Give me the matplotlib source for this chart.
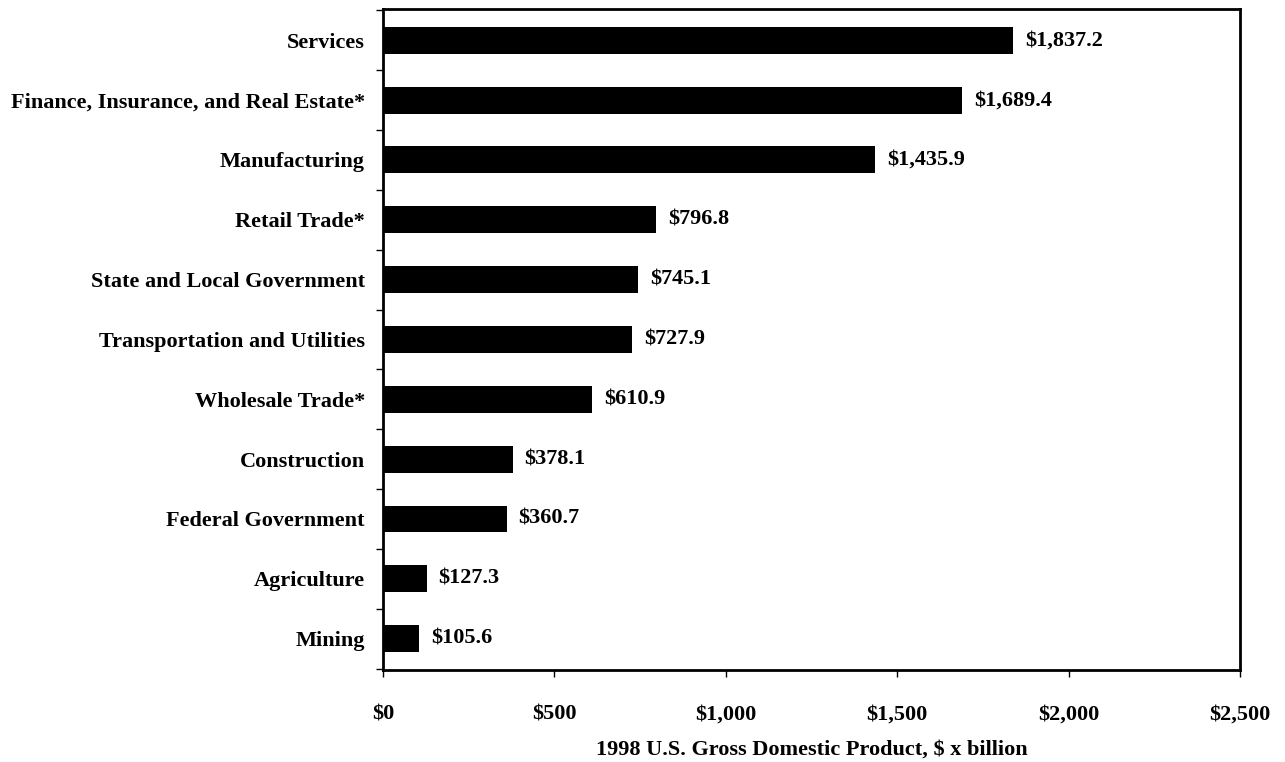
import numpy as np
import matplotlib.pyplot as plt
from matplotlib.ticker import FuncFormatter

# 1998 GDP by industry, $ billion
sectors = ['Services', 'Finance, Insurance, and Real Estate*', 'Manufacturing',
           'Retail Trade*', 'State and Local Government', 'Transportation and Utilities',
           'Wholesale Trade*', 'Construction', 'Federal Government', 'Agriculture', 'Mining']
gdp = [1837.2, 1689.4, 1435.9, 796.8, 745.1, 727.9, 610.9, 378.1, 360.7, 127.3, 105.6]
xticks = [0, 500, 1000, 1500, 2000, 2500]

plt.rcParams['font.family'] = ['Liberation Serif', 'DejaVu Serif']
plt.rcParams['font.weight'] = 'bold'
fs = 16

fig = plt.figure(figsize=(12.85, 7.62), dpi=100)
ax = fig.add_axes([0.298, 0.121, 0.667, 0.867])

y = np.arange(len(sectors))
ax.barh(y, gdp, height=0.45, color='black')
for yi, v in zip(y, gdp):
    ax.text(v + 35, yi, '${:,.1f}'.format(v), va='center', ha='left',
            fontsize=fs, fontweight='bold')

ax.set_ylim(len(sectors) - 0.48, -0.52)
ax.set_xlim(0, 2500)
ax.set_xticks(xticks)
ax.xaxis.set_major_formatter(FuncFormatter(lambda v, p: '${:,.0f}'.format(v)))
ax.set_yticks(y)
ax.set_yticklabels(sectors)
ax.set_yticks(np.arange(len(sectors) + 1) - 0.5, minor=True)
ax.tick_params(axis='y', which='major', length=0, pad=13, labelsize=fs)
ax.tick_params(axis='y', which='minor', length=5, width=1)
ax.tick_params(axis='x', length=5, width=1, pad=20, labelsize=fs)
for lab in ax.get_xticklabels() + ax.get_yticklabels():
    lab.set_fontweight('bold')

for s in ax.spines.values():
    s.set_linewidth(2)

ax.set_xlabel('1998 U.S. Gross Domestic Product, $ x billion', fontsize=fs,
              fontweight='bold', labelpad=11)

fig.savefig('out.png', dpi=100)
